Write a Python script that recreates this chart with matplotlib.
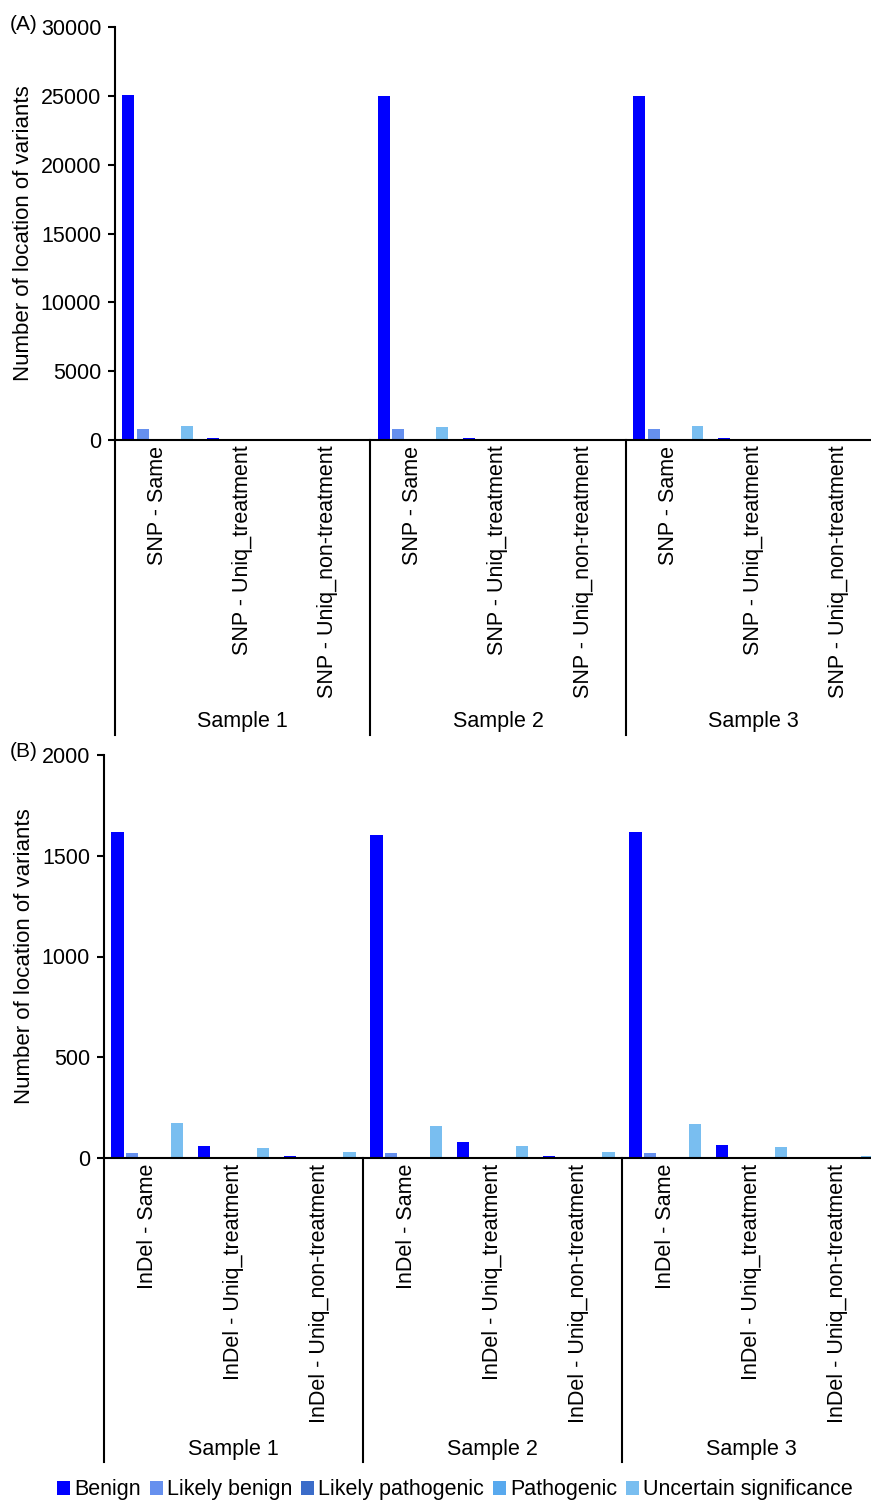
import numpy as np
import matplotlib
matplotlib.use("Agg")
import matplotlib.pyplot as plt
from matplotlib.patches import Patch

plt.rcParams.update({
    "font.family": ["Liberation Sans", "DejaVu Sans"],
    "font.size": 15,
})

# ---------------- data ----------------
series = ["Benign", "Likely benign", "Likely pathogenic", "Pathogenic",
          "Uncertain significance"]
colors = ["#0000FF", "#6690EE", "#3B6CC9", "#58A9EE", "#79BEF0"]
samples = ["Sample 1", "Sample 2", "Sample 3"]
snp_cats = ["SNP - Same", "SNP - Uniq_treatment", "SNP - Uniq_non-treatment"]
indel_cats = ["InDel - Same", "InDel - Uniq_treatment", "InDel - Uniq_non-treatment"]

# panel A (SNP), 9 values per series: sample1 x3, sample2 x3, sample3 x3
benign_a = [25050, 110, 0, 24980, 110, 0, 25020, 120, 0]
likely_benign_a = [800, 0, 0, 820, 0, 0, 800, 0, 0]
likely_path_a = [0, 0, 0, 0, 0, 0, 0, 0, 0]
pathogenic_a = [0, 0, 0, 0, 0, 0, 0, 0, 0]
uncertain_a = [1000, 0, 0, 980, 0, 0, 1000, 0, 0]

# panel B (InDel)
benign_b = [1620, 61, 8, 1605, 79, 10, 1620, 63, 5]
likely_benign_b = [23, 0, 0, 23, 0, 0, 23, 0, 0]
likely_path_b = [0, 0, 0, 0, 0, 0, 0, 0, 0]
pathogenic_b = [0, 0, 0, 0, 0, 0, 0, 0, 0]
uncertain_b = [172, 50, 31, 159, 60, 28, 167, 56, 10]

W, H = 871, 1501
fig = plt.figure(figsize=(W / 100, H / 100), dpi=100)


def panel(left, top, bottom, right, ymax, yticks, vals, cats, tag, line_px, lab_px):
    ax = fig.add_axes([left / W, 1 - bottom / H, (right - left) / W, (bottom - top) / H])
    n = len(samples) * len(cats)
    x = np.arange(n)
    pitch = 0.172
    for i, (v, c) in enumerate(zip(vals, colors)):
        ax.bar(x + (i - 2) * pitch, v, width=0.14, color=c, linewidth=0)
    ax.set_xlim(-0.5, n - 0.5)
    ax.set_ylim(0, ymax)
    ax.set_yticks(yticks)
    ax.set_xticks(x)
    ax.set_xticklabels(cats * len(samples), rotation=90, va="top", ha="center",
                       fontsize=15.5)
    ax.tick_params(axis="x", length=0, pad=4)
    ax.tick_params(axis="y", length=5, width=1.5, pad=5, labelsize=15.5)
    for s in ["top", "right"]:
        ax.spines[s].set_visible(False)
    for s in ["left", "bottom"]:
        ax.spines[s].set_linewidth(1.5)
    ax.set_ylabel("Number of location of variants", labelpad=5, fontsize=16)

    h = bottom - top
    ybot = -(line_px - bottom) / h
    ylab = -(lab_px - bottom) / h
    tr = ax.get_xaxis_transform()
    for k in range(len(samples) + 1):
        xb = k * len(cats) - 0.5
        ax.plot([xb, xb], [0, ybot], color="black", lw=1.5, transform=tr, clip_on=False)
    for k, s in enumerate(samples):
        ax.text(k * len(cats) + 1, ylab, s, transform=tr, ha="center", va="center",
                fontsize=15.5)
    fig.text(10 / W, 1 - (top - 3) / H, tag, ha="left", va="center", fontsize=15)
    return ax


panel(115, 27, 440, 881, 30000, range(0, 30001, 5000),
      [benign_a, likely_benign_a, likely_path_a, pathogenic_a, uncertain_a],
      snp_cats, "(A)", 735, 721)
panel(104, 755, 1158, 881, 2000, range(0, 2001, 500),
      [benign_b, likely_benign_b, likely_path_b, pathogenic_b, uncertain_b],
      indel_cats, "(B)", 1462, 1449)

handles = [Patch(facecolor=c, edgecolor="none") for c in colors]
fig.legend(handles, series, ncol=5, loc="center",
           bbox_to_anchor=(455 / W, 1 - 1490 / H), frameon=False, borderpad=0,
           fontsize=15.5, handlelength=0.6, handleheight=0.6, handletextpad=0.2,
           columnspacing=0.4)

fig.savefig("out.png", dpi=100)
